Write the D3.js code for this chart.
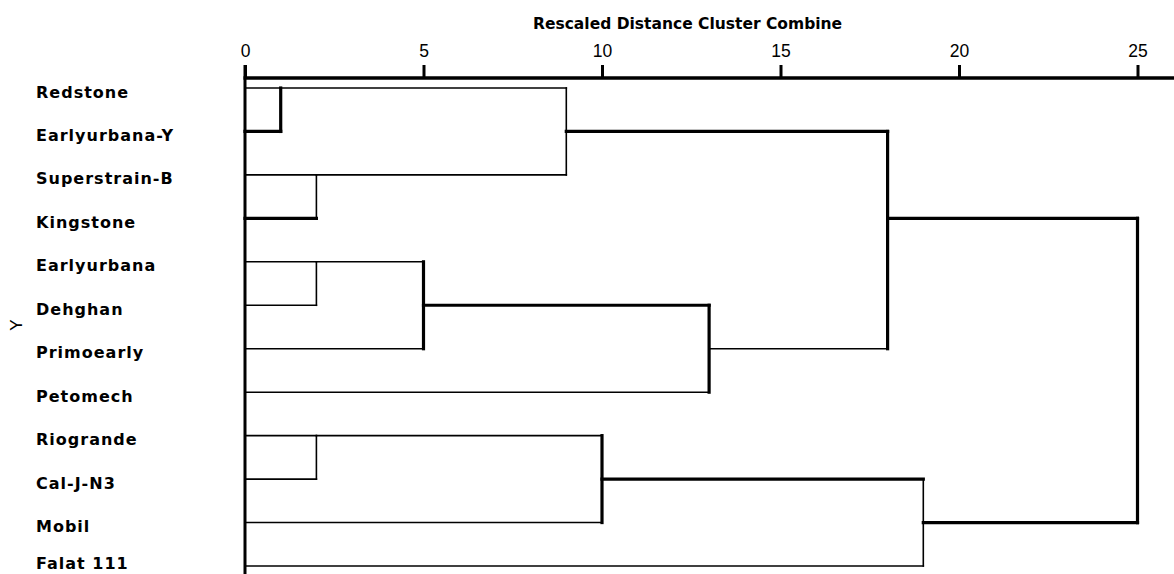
<!DOCTYPE html>
<html>
<head>
<meta charset="utf-8">
<script src="https://cdn.jsdelivr.net/npm/d3@7/dist/d3.min.js"></script>
<style>
  html, body { margin: 0; padding: 0; background: #fff; }
  svg { display: block; }
</style>
</head>
<body>
<script>
// ---- data ----
const labels = ["Redstone","Earlyurbana-Y","Superstrain-B","Kingstone","Earlyurbana","Dehghan","Primoearly","Petomech","Riogrande","Cal-J-N3","Mobil","Falat 111"];
// agglomeration schedule: leaves are 0..11, merge k creates cluster 12+k
const mergeLeft  = [0, 2, 4, 8, 14, 12, 15, 16, 17, 18, 20];
const mergeRight = [1, 3, 5, 9, 6, 13, 10, 7, 19, 11, 21];
const mergeDist  = [1, 2, 2, 2, 5, 9, 10, 13, 18, 19, 25];
const tickValues = [0, 5, 10, 15, 20, 25];
const titleText = "Rescaled Distance Cluster Combine";
const yLabel = "Y";

// ---- style: which segments are drawn heavy (a = upper child, b = lower child, v = vertical) ----
const heavy = new Set(["12b","12v","13b","16v","18v","19a","19v","20a","20v","21a","22a","22b","22v"]);

const W = 1174, H = 574;
const svg = d3.select("body").append("svg").attr("width", W).attr("height", H);

const x = d3.scaleLinear().domain([0, 25]).range([245, 1137.5]);
const y = d3.scalePoint().domain(labels).range([88, 566]);
const rowY = r => y(labels[r]);

// build nodes
const nodes = labels.map((d, i) => ({ id: i, row: i, dist: 0 }));
const segs = [];
mergeLeft.forEach((L, k) => {
  const R = mergeRight[k], id = labels.length + k, dist = mergeDist[k];
  const a = nodes[L], b = nodes[R];
  const row = Math.floor((a.row + b.row) / 2);
  nodes[id] = { id, row, dist };
  segs.push({ key: id + "a", x1: x(a.dist), x2: x(dist), y1: rowY(a.row), y2: rowY(a.row) });
  segs.push({ key: id + "b", x1: x(b.dist), x2: x(dist), y1: rowY(b.row), y2: rowY(b.row) });
  segs.push({ key: id + "v", x1: x(dist), x2: x(dist), y1: rowY(a.row), y2: rowY(b.row) });
});

// title
svg.append("text")
  .attr("x", 533).attr("y", 29)
  .attr("font-family", "DejaVu Sans").attr("font-weight", "bold")
  .attr("font-size", 15.5).attr("fill", "#000")
  .text(titleText);

// axis
const axis = d3.axisTop(x).tickValues(tickValues).tickSize(13).tickSizeOuter(0).tickPadding(8.5);
const gAxis = svg.append("g").attr("transform", "translate(0,78)").call(axis);
gAxis.select(".domain").remove();
gAxis.selectAll(".tick line").attr("stroke", "#000").attr("stroke-width", 3);
gAxis.selectAll(".tick text")
  .attr("font-family", "Liberation Sans").attr("font-size", 17.5).attr("fill", "#000");
svg.append("line")
  .attr("x1", x(0) - 1.5).attr("x2", W).attr("y1", 78).attr("y2", 78)
  .attr("stroke", "#000").attr("stroke-width", 3.5);

// leaf base line
svg.append("line")
  .attr("x1", x(0)).attr("x2", x(0)).attr("y1", 65).attr("y2", H)
  .attr("stroke", "#000").attr("stroke-width", 3);

// dendrogram segments
svg.append("g").selectAll("line").data(segs).join("line")
  .attr("x1", d => d.x1).attr("x2", d => d.x2)
  .attr("y1", d => d.y1).attr("y2", d => d.y2)
  .attr("stroke", "#000")
  .attr("stroke-linecap", "square")
  .attr("stroke-width", d => heavy.has(d.key) ? 3.2 : 1.6);

// leaf labels
svg.append("g").selectAll("text").data(labels).join("text")
  .attr("x", 36).attr("y", d => Math.min(y(d) + 9.5, H - 5))
  .attr("font-family", "DejaVu Sans").attr("font-weight", "bold")
  .attr("font-size", 16).attr("letter-spacing", 1).attr("fill", "#000")
  .text(d => d);

// y label
svg.append("text")
  .attr("transform", "translate(16,325) rotate(-90)")
  .attr("text-anchor", "middle").attr("dominant-baseline", "central")
  .attr("font-family", "Liberation Sans").attr("font-size", 17).attr("fill", "#000")
  .text(yLabel);
</script>
</body>
</html>
